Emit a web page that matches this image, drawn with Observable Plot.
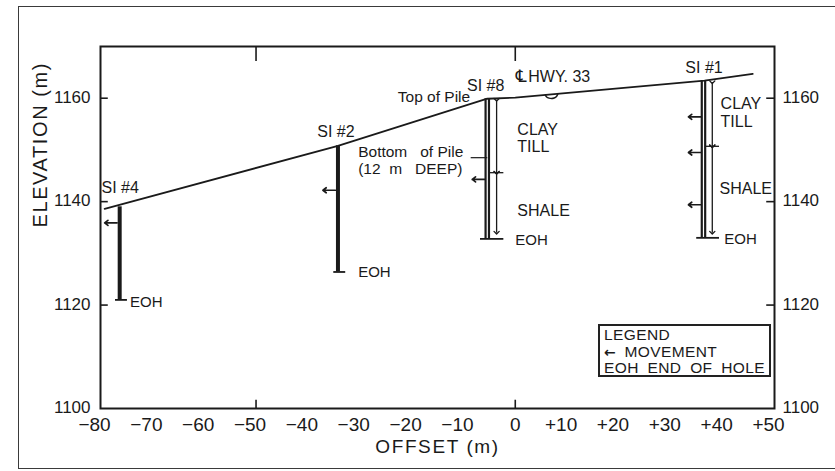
<!DOCTYPE html>
<html>
<head>
<meta charset="utf-8">
<script src="https://cdn.jsdelivr.net/npm/d3@7"></script>
<script src="https://cdn.jsdelivr.net/npm/@observablehq/plot@0.6"></script>
<style>
  body { margin: 0; background: #fff; }
  #wrap { position: relative; width: 835px; height: 471px; overflow: hidden; font-family: "Liberation Sans", Arial, sans-serif; color: #1a1a1a; background: #fff; }
  #border { position: absolute; left: 18px; top: 6px; width: 840px; height: 463px; border: 1.5px solid #3a3a3a; box-sizing: border-box; }
  #chart { position: absolute; left: 0; top: 0; }
  #legend { position: absolute; left: 598px; top: 324px; width: 173px; height: 53px; border: 2px solid #222; box-sizing: border-box; font-size: 15.5px; line-height: 16.5px; padding: 1px 0 0 4px; letter-spacing: 0.4px; word-spacing: 4px; white-space: nowrap; }
  #legend .arr { font-family: "DejaVu Sans", sans-serif; font-size: 14px; font-weight: bold; letter-spacing: 0; }
  g[aria-description="axis-title"] text { letter-spacing: 1.6px; }
</style>
</head>
<body>
<div id="wrap">
  <div id="border"></div>
  <div id="chart"></div>
  <div id="legend">
    <div>LEGEND</div>
    <div><span class="arr">&#8592;</span> MOVEMENT</div>
    <div>EOH END OF HOLE</div>
  </div>
</div>
<script>
// ---- axes ----
const xTickValues = [-80, -70, -60, -50, -40, -30, -20, -10, 0, 10, 20, 30, 40, 50];
const xTickLabels = ["−80", "−70", "−60", "−50", "−40", "−30", "−20", "−10", "0", "+10", "+20", "+30", "+40", "+50"];
const yTickValues = [1100, 1120, 1140, 1160];
const xInnerTicks = [-50, 0];
const yInnerTicks = [1120, 1140, 1160];

// ---- ground surface profile ----
const groundOffset = [-79.2, -34.2, -5.4, 0, 36.5, 45.8];
const groundElev = [1138.6, 1150.8, 1159.9, 1160.1, 1163.4, 1164.7];

// small ditch below the road surface
const ditchOffset = [5.8, 6.0, 6.5, 7.0, 7.5, 8.0, 8.2];
const ditchElev = [1160.6, 1160.2, 1160.0, 1159.9, 1160.0, 1160.3, 1160.8];

// ---- slope indicator holes ----
const holeNames = ["SI #4", "SI #2", "SI #8", "SI #1"];
const holeOffset = [-76.3, -34.2, -5.4, 36.3];
const holeTop = [1139.0, 1150.8, 1159.9, 1163.3];
const holeBottom = [1121.0, 1126.4, 1132.8, 1133.0];

// ---- soil layers logged in holes ----
const layerHole = ["SI #8", "SI #8", "SI #1", "SI #1"];
const layerName = ["CLAY TILL", "SHALE", "CLAY TILL", "SHALE"];
const layerOffset = [-3.6, -3.6, 38.0, 38.0];
const layerTop = [1159.7, 1145.6, 1163.1, 1150.7];
const layerBottom = [1145.6, 1134.0, 1150.7, 1134.0];

// ---- movement zones ----
const moveHole = ["SI #4", "SI #2", "SI #8", "SI #1", "SI #1", "SI #1"];
const moveElev = [1135.9, 1142.2, 1144.3, 1156.4, 1149.5, 1139.4];

// ---- pile ----
const pileTopElev = 1160.0;
const pileBottomElev = 1148.5;

// ---- annotation texts ----
const siLabelText = ["SI #4", "SI #2", "SI #8", "SI #1"];
const siLabelOffset = [-79.8, -38.2, -9.3, 32.8];
const siLabelElev = [1142.6, 1153.4, 1162.3, 1165.8];

const layerLabelText = ["CLAY", "TILL", "SHALE", "CLAY", "TILL", "SHALE"];
const layerLabelOffset = [0.4, 0.4, 0.4, 39.6, 39.6, 39.4];
const layerLabelElev = [1153.8, 1150.5, 1138.3, 1159.0, 1155.5, 1142.4];

const eohOffset = [-74.3, -30.3, 0.0, 40.3];
const eohElev = [1120.5, 1126.3, 1132.5, 1132.7];

const pileLabelText = ["Bottom   of Pile", "(12  m   DEEP)"];
const pileLabelOffset = [-30.3, -30.3];
const pileLabelElev = [1149.5, 1146.4];
const pileTopLabel = "Top of Pile";
const pileTopLabelOffset = -8.7;
const pileTopLabelElev = 1160.3;

const hwyText = "HWY. 33";
const hwyOffset = 2.5;
const hwyElev = 1164.2;

// ---- build tables ----
const ground = groundOffset.map((x, i) => ({x, y: groundElev[i]}));
const ditch = ditchOffset.map((x, i) => ({x, y: ditchElev[i]}));
const holes = holeNames.map((name, i) => ({name, offset: holeOffset[i], top: holeTop[i], bottom: holeBottom[i]}));
const layers = layerHole.map((hole, i) => ({hole, name: layerName[i], offset: layerOffset[i], top: layerTop[i], bottom: layerBottom[i]}));
const dimOffsetOf = name => { const l = layers.find(d => d.hole === name); return l ? l.offset : null; };
const solidHoles = holes.filter(h => dimOffsetOf(h.name) === null);
const casedHoles = holes.filter(h => dimOffsetOf(h.name) !== null);
const bases = holes.map(h => {
  const dim = dimOffsetOf(h.name);
  return dim === null
    ? {x1: h.offset - 0.9, x2: h.offset + 1.4, y: h.bottom}
    : {x1: h.offset - 1.4, x2: dim + 1.3, y: h.bottom};
});
const boundaries = [];
layers.forEach((l, i) => { if (i > 0 && layers[i - 1].hole === l.hole) boundaries.push({x: l.offset, y: l.top}); });
const moves = moveHole.map((hole, i) => ({offset: holeOffset[holeNames.indexOf(hole)], y: moveElev[i]}));
const pileHole = holes.find(h => h.name === "SI #8");
const siLabels = siLabelText.map((t, i) => ({t, x: siLabelOffset[i], y: siLabelElev[i]}));
const layerLabels = layerLabelText.map((t, i) => ({t, x: layerLabelOffset[i], y: layerLabelElev[i]}));
const eohLabels = eohOffset.map((x, i) => ({t: "EOH", x, y: eohElev[i]}));
const pileLabels = pileLabelText.map((t, i) => ({t, x: pileLabelOffset[i], y: pileLabelElev[i]}));
const xLabels = xTickValues.map((v, i) => ({v, t: xTickLabels[i]}));

const ink = "#1a1a1a";

const chart = Plot.plot({
  width: 835,
  height: 471,
  marginLeft: 100,
  marginRight: 61,
  marginTop: 46,
  marginBottom: 63,
  style: {fontFamily: "'Liberation Sans', Arial, sans-serif", background: "transparent", color: ink, overflow: "visible"},
  x: {domain: [-80, 50], axis: null},
  y: {domain: [1100, 1170], axis: null},
  marks: [
    Plot.frame({stroke: ink, strokeWidth: 2}),
    // inner ticks
    Plot.ruleX(xInnerTicks, {x: d => d, y1: 1170, y2: 1167.1, stroke: ink, strokeWidth: 1.6}),
    Plot.ruleX(xInnerTicks, {x: d => d, y1: 1100, y2: 1101.6, stroke: ink, strokeWidth: 1.6}),
    Plot.ruleY(yInnerTicks, {y: d => d, x1: -80, x2: -78.5, stroke: ink, strokeWidth: 1.6}),
    Plot.ruleY(yInnerTicks, {y: d => d, x1: 50, x2: 48.5, stroke: ink, strokeWidth: 1.6}),
    // tick labels
    Plot.text(xLabels.filter(d => d.v !== 0), {x: "v", y: 1100, text: "t", dy: 16, dx: -6, fontSize: 19, fill: ink}),
    Plot.text(xLabels.filter(d => d.v === 0), {x: "v", y: 1100, text: "t", dy: 16, fontSize: 19, fill: ink}),
    Plot.text(yTickValues, {x: -80, y: d => d, text: d => String(d), textAnchor: "end", dx: -10, dy: -1, fontSize: 17, fill: ink}),
    Plot.text(yTickValues, {x: 50, y: d => d, text: d => String(d), textAnchor: "start", dx: 8, dy: -1, fontSize: 17, fill: ink}),
    // axis titles
    Plot.text(["ELEVATION (m)"], {frameAnchor: "left", text: d => d, rotate: -90, dx: -60, fontSize: 20, fill: ink, ariaDescription: "axis-title"}),
    Plot.text(["OFFSET (m)"], {frameAnchor: "bottom", text: d => d, dy: 44, fontSize: 19, fill: ink, ariaDescription: "axis-title"}),
    // ground surface
    Plot.line(ground, {x: "x", y: "y", stroke: ink, strokeWidth: 1.8}),
    Plot.line(ditch, {x: "x", y: "y", stroke: ink, strokeWidth: 1.5, curve: "basis"}),
    // holes
    Plot.ruleX(solidHoles, {x: "offset", y1: "top", y2: "bottom", stroke: ink, strokeWidth: 4}),
    Plot.ruleX(casedHoles, {x: "offset", y1: "top", y2: "bottom", dx: -1.7, stroke: ink, strokeWidth: 2.2}),
    Plot.ruleX(casedHoles, {x: "offset", y1: "top", y2: "bottom", dx: 1.7, stroke: ink, strokeWidth: 2.2}),
    Plot.link(bases, {x1: "x1", x2: "x2", y1: "y", y2: "y", stroke: ink, strokeWidth: 1.8}),
    // layer dimension lines
    Plot.link(layers, {x1: "offset", x2: "offset", y1: "top", y2: "bottom", stroke: ink, strokeWidth: 1.3, markerStart: "arrow", markerEnd: "arrow"}),
    Plot.link(boundaries, {x1: d => d.x - 1.3, x2: d => d.x + 1.3, y1: "y", y2: "y", stroke: ink, strokeWidth: 1.3}),
    // movement arrows
    Plot.arrow(moves, {x1: d => d.offset - 0.5, x2: d => d.offset - 2.9, y1: "y", y2: "y", stroke: ink, strokeWidth: 1.7, headLength: 6, headAngle: 75}),
    // pile bottom leader
    Plot.link([pileBottomElev], {x1: pileLabelOffset[0] + 21.7, x2: pileHole.offset, y1: d => d, y2: d => d, stroke: ink, strokeWidth: 1.2}),
    // labels
    Plot.text(siLabels, {x: "x", y: "y", text: "t", textAnchor: "start", fontSize: 16, fill: ink}),
    Plot.text(layerLabels, {x: "x", y: "y", text: "t", textAnchor: "start", fontSize: 16, fill: ink}),
    Plot.text(eohLabels, {x: "x", y: "y", text: "t", textAnchor: "start", fontSize: 15, fill: ink}),
    Plot.text(pileLabels, {x: "x", y: "y", text: "t", textAnchor: "start", fontSize: 15.5, fill: ink}),
    Plot.text([pileTopLabel], {x: pileTopLabelOffset, y: pileTopLabelElev, text: d => d, textAnchor: "end", fontSize: 15.5, fill: ink}),
    Plot.text([hwyText], {x: hwyOffset, y: hwyElev, text: d => d, textAnchor: "start", fontSize: 16, fill: ink}),
    Plot.text(["\u2104"], {x: hwyOffset - 0.3, y: hwyElev, text: d => d, textAnchor: "end", fontSize: 17, fontFamily: "DejaVu Sans", fill: ink})
  ]
});
document.getElementById("chart").appendChild(chart);
</script>
</body>
</html>
